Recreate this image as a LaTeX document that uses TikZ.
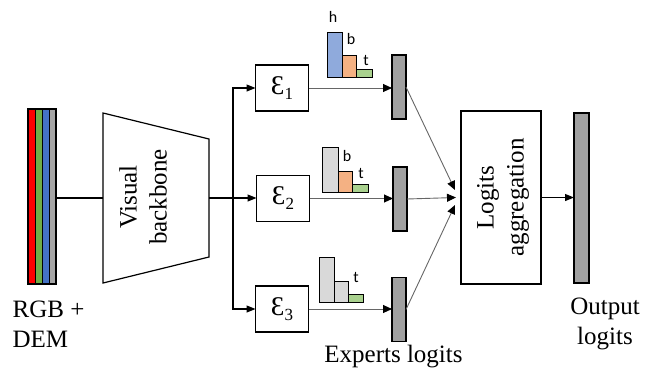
\documentclass[tikz,border=0pt]{standalone}
\usepackage{fontspec}
\setmainfont{Liberation Serif}
\newfontfamily\labfont{Carlito}
\usetikzlibrary{arrows.meta}
\definecolor{cRed}{HTML}{FF0000}
\definecolor{cGreen}{HTML}{70AD47}
\definecolor{cBlue}{HTML}{4472C4}
\definecolor{cGray}{HTML}{A6A6A6}
\definecolor{hBlue}{HTML}{8FAADC}
\definecolor{hOrange}{HTML}{F4B183}
\definecolor{hGreen}{HTML}{A9D18E}
\definecolor{hGray}{HTML}{D9D9D9}
\definecolor{logit}{HTML}{A0A0A0}
\begin{document}
\begin{tikzpicture}[x=1pt,y=-1pt,
  every node/.style={inner sep=0pt, outer sep=0pt},
  box/.style={draw, line width=1.2pt, fill=white},
  expert/.style={box, minimum width=53pt, minimum height=46pt, font=\fontsize{27}{28}\selectfont},
  logitbar/.style={draw, line width=1.2pt, fill=logit, minimum width=14pt, minimum height=64pt},
  hbar/.style={draw, line width=1pt},
  conn/.style={draw=black, line width=1.1pt},
  arr/.style={conn, -{Triangle[length=9pt,width=7pt]}},
  thinarr/.style={draw=black!60, line width=0.9pt, -{Triangle[length=9pt,width=8pt,color=black,fill=black]}},
  lab/.style={font=\fontsize{25}{30}\selectfont, align=center},
  hlab/.style={font=\labfont\fontsize{16}{16}\selectfont}]

\useasboundingbox (0,0) rectangle (650,370);

% input strip
\foreach \c [count=\i from 0] in {cRed,cGreen,cBlue,cGray}
  \draw[fill=\c, line width=1pt] (28+7*\i,109) rectangle ++(7,175);
\node[draw, line width=1.2pt, minimum width=28pt, minimum height=175pt] (strip) at (42,196.5) {};
\node[lab, align=left] (rgbt) at (48.5,324) {RGB +\\DEM};

% backbone
\draw[line width=1.2pt] (103,113) -- (209,139) -- (209,257) -- (103,283) -- cycle;
\coordinate (bbL) at (103,198);
\coordinate (bbR) at (209,198);
\node[lab, rotate=90] (bbtext) at (143,197) {Visual\\backbone};
\draw[conn] (strip.east |- bbL) -- (bbL);

% experts
\node[expert] (e1) at (282,88) {Ɛ\raisebox{-5pt}{\fontsize{17}{17}\selectfont 1}};
\node[expert] (e2) at (283,198.5) {Ɛ\raisebox{-5pt}{\fontsize{17}{17}\selectfont 2}};
\node[expert] (e3) at (282,309) {Ɛ\raisebox{-5pt}{\fontsize{17}{17}\selectfont 3}};

\coordinate (j) at (233,198);
\draw[conn] (bbR) -- (j);
\draw[arr] (j) |- (e1.west);
\draw[arr] (j) -- (j -| e2.west);
\draw[arr] (j) |- (e3.west);

% logit bars
\node[logitbar] (l1) at (399,87) {};
\node[logitbar] (l2) at (400,199) {};
\node[logitbar] (l3) at (399,309.5) {};
\draw[thinarr] (e1.east) -- (e1.east -| l1.west);
\draw[thinarr] (e2.east) -- (e2.east -| l2.west);
\draw[thinarr] (e3.east) -- (e3.east -| l3.west);

% histograms
\draw[hbar, fill=hBlue] (327,32) rectangle (342,77);
\draw[hbar, fill=hOrange] (342,55) rectangle (356,77);
\draw[hbar, fill=hGreen] (356,69) rectangle (372,77);
\node[hlab] (h1) at (333,17) {h};
\node[hlab] (b1) at (351,39) {b};
\node[hlab] (t1) at (366,60) {t};

\draw[hbar, fill=hGray] (322,147) rectangle (338,192);
\draw[hbar, fill=hOrange] (338,171) rectangle (352,192);
\draw[hbar, fill=hGreen] (352,184) rectangle (368,192);
\node[hlab] (b2) at (347,156) {b};
\node[hlab] (t2) at (361,173) {t};

\draw[hbar, fill=hGray] (319,257) rectangle (334,302);
\draw[hbar, fill=hGray] (334,281) rectangle (348,302);
\draw[hbar, fill=hGreen] (348,294) rectangle (363,302);
\node[hlab] (t3) at (356,277) {t};

\node[lab] (expl) at (393.5,357) {Experts logits};

% aggregation
\node[box, minimum width=80pt, minimum height=173pt] (agg) at (501,197.5) {};
\node[lab, rotate=90] (aggt) at (503,197.5) {Logits\\aggregation};
\coordinate (a1) at (455,190);
\coordinate (a2) at (456,197.5);
\coordinate (a3) at (455,205);
\draw[thinarr] (l1.east) -- (a1);
\draw[thinarr] (l2.east) -- (a2);
\draw[thinarr] (l3.east) -- (a3);

% output
\node[logitbar, minimum width=15pt, minimum height=170pt] (out) at (581.5,198) {};
\draw[arr] (agg.east) -- (agg.east -| out.west);
\node[lab] (outt) at (605,324) {Output\\logits};
\end{tikzpicture}
\end{document}
